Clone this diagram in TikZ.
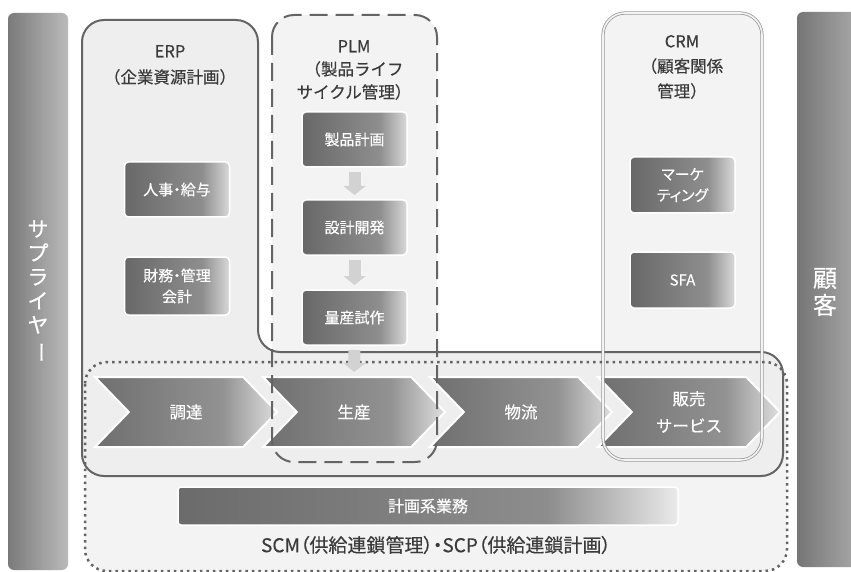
\documentclass[tikz,border=0pt]{standalone}
\usepackage{fontspec}
\usepackage{graphicx}
\setmainfont{Noto Sans CJK JP}[FakeBold=0.35]
\newfontfamily\paltfont{Noto Sans CJK JP}[RawFeature=+palt,FakeBold=0.35]
\usetikzlibrary{shapes.symbols,arrows.meta}
\definecolor{bxA}{HTML}{686868}
\definecolor{bxB}{HTML}{8E8E8E}
\definecolor{bxC}{HTML}{D9D9D9}
\definecolor{chA}{HTML}{6F6F6F}
\definecolor{chB}{HTML}{929292}
\definecolor{chC}{HTML}{DEDEDE}
\definecolor{plA}{HTML}{6B6B6B}
\definecolor{plB}{HTML}{8D8D8D}
\definecolor{plC}{HTML}{EAEAEA}
\definecolor{titlec}{HTML}{3A3A3A}
\definecolor{linec}{HTML}{646464}
\definecolor{crmline}{HTML}{9C9C9C}
\definecolor{erpfill}{HTML}{EEEEEE}
\definecolor{regfill}{HTML}{F3F3F3}
\definecolor{arrc}{HTML}{D2D2D2}
\pgfdeclarehorizontalshading{boxshade}{100bp}{color(0bp)=(bxA); color(25bp)=(bxA); color(62bp)=(bxB); color(75bp)=(bxC); color(100bp)=(bxC)}
\pgfdeclarehorizontalshading{chevshade}{100bp}{color(0bp)=(chA); color(25bp)=(chA); color(60bp)=(chB); color(75bp)=(chC); color(100bp)=(chC)}
\pgfdeclarehorizontalshading{planshade}{100bp}{color(0bp)=(plA); color(25bp)=(plA); color(62bp)=(plB); color(75bp)=(plC); color(100bp)=(plC)}
\begin{document}
\begin{tikzpicture}[x=1pt,y=-1pt,
  every node/.style={inner sep=0pt,outer sep=0pt},
  ttl/.style={text=titlec,align=center,font=\fontsize{16.5}{24}\selectfont},
  gbox/.style={shading=boxshade,draw=white,line width=1.5pt,rounded corners=4pt,text=white,align=center,
    font=\paltfont\fontsize{15}{21}\selectfont,minimum width=105pt,minimum height=55pt},
  chev/.style={signal,signal from=west,signal to=east,signal pointer angle=92,shading=chevshade,
    draw=white,line width=2pt,minimum width=182pt,minimum height=70pt,text=white,align=center,
    font=\fontsize{16.5}{27}\selectfont},
  darr/.style={draw=arrc,line width=12pt,-{Triangle[width=22pt,length=9pt]}},
  sidebar/.style={rounded corners=6pt,text=white,align=center},
]
\useasboundingbox (0,0) rectangle (851,572);
\clip (0,0) rectangle (851,572);
\fill[white] (0,0) rectangle (851,572);
% side bars
\node[sidebar,left color=black!52,right color=black!27,minimum width=60pt,minimum height=557pt,
  font=\fontsize{21}{24}\selectfont] (sup) at (38,291.5)
  {サ\\プ\\ラ\\イ\\ヤ\\\rotatebox[origin=c]{-90}{ー}};
\node[sidebar,left color=black!54,right color=black!33,minimum width=64pt,minimum height=555pt] (cus) at (829,289.5) {};
\node[text=white,align=center,font=\fontsize{24}{27}\selectfont] (cust) at (825,292) {顧\\客};
% region fills
\fill[regfill,rounded corners=22pt] (85,362) rectangle (787,571);
\fill[regfill,rounded corners=22pt] (272,15) rectangle (437,462);
\fill[regfill,rounded corners=22pt] (603,13) rectangle (762,460);
\fill[erpfill,rounded corners=22pt] (82,20) -- (258,20) -- (258,352) -- (783,352) -- (783,476) -- (82,476) -- cycle;
% titles
\node[ttl,font=\fontsize{16.5}{26}\selectfont] (erpt) at (170,65) {ERP\\（企業資源計画）};
\node[ttl,font=\fontsize{16.5}{23}\selectfont] (plmt) at (354,70) {PLM\\（製品ライフ\\サイクル管理）};
\node[ttl,font=\fontsize{16.5}{25}\selectfont] (crmt) at (682,67) {CRM\\（顧客関係\\管理）};
% inner boxes
\node[gbox] (hr) at (177,189.5) {人事・給与};
\node[gbox,minimum height=58pt] (fin) at (177,286) {財務・管理\\会計};
\node[gbox] (p1) at (354.5,139.5) {製品計画};
\node[gbox] (p2) at (354.5,227.5) {設計開発};
\node[gbox] (p3) at (354.5,317.5) {量産試作};
\node[gbox,minimum height=56pt] (mkt) at (682.5,185) {マーケ\\ティング};
\node[gbox,minimum height=56pt] (sfa) at (682.5,280) {SFA};
% chevrons
\node[chev] (c1) at (186,412) {調達};
\node[chev] (c2) at (354,412) {生産};
\node[chev] (c3) at (521,412) {物流};
\node[chev] (c4) at (689,412) {販売\\サービス};
% planning bar
\node[shading=planshade,draw=white,line width=1.5pt,rounded corners=3pt,minimum width=500pt,minimum height=38pt,
  text=white,font=\fontsize{16}{20}\selectfont] (plan) at (428,506) {計画系業務};
\node[text=titlec,font=\paltfont\fontsize{19}{22}\selectfont] (scm) at (436,545) {SCM（供給連鎖管理）・SCP（供給連鎖計画）};
% outlines
\draw[linec,line width=2pt,rounded corners=22pt] (82,20) -- (258,20) -- (258,352) -- (783,352) -- (783,476) -- (82,476) -- cycle;
\draw[linec,line width=2pt,dash pattern=on 18pt off 8pt,rounded corners=22pt] (272,15) rectangle (437,462);
\draw[crmline,line width=0.8pt,double=regfill,double distance=1.6pt,rounded corners=22pt] (603,13) rectangle (762,460);
\draw[linec,line width=2.5pt,dash pattern=on 2.5pt off 4pt,rounded corners=22pt] (85,362) rectangle (787,571);
% arrows
\draw[darr] ([yshift=-5pt]p1.south) -- ([yshift=5pt]p2.north);
\draw[darr] ([yshift=-5pt]p2.south) -- ([yshift=5pt]p3.north);
\draw[darr] ([yshift=-5pt]p3.south) -- ([yshift=5pt]c2.north);
\end{tikzpicture}
\end{document}
